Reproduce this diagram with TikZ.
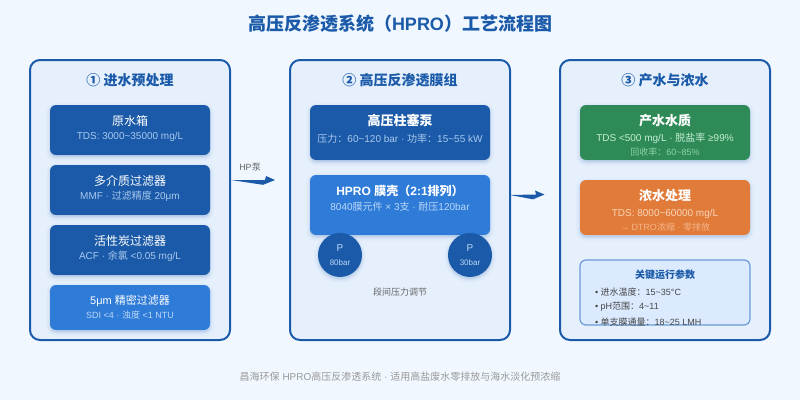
\documentclass[tikz,border=0pt]{standalone}
\usepackage{fontspec}
\setmainfont{Liberation Sans}
\newfontfamily\cjk{Noto Sans CJK SC}
\newcommand\zh[1]{{\cjk #1}}
\newcommand\fs[1]{\fontsize{\fpeval{#1*0.75}pt}{\fpeval{#1*0.9}pt}\selectfont}
\definecolor{bgc}{HTML}{F0F7FF}
\definecolor{panelc}{HTML}{E6F0FD}
\definecolor{deep}{HTML}{1A5AA8}
\definecolor{bright}{HTML}{2F7BD8}
\definecolor{greenc}{HTML}{2E8B57}
\definecolor{orangec}{HTML}{E07B39}
\definecolor{infoc}{HTML}{DBEAFE}
\definecolor{infoedge}{HTML}{6A9BD8}
\definecolor{subdeep}{HTML}{A9C8EE}
\definecolor{subbright}{HTML}{BBD8F8}
\definecolor{subgreen}{HTML}{C4ECD4}
\definecolor{thirdgreen}{HTML}{8FD0A8}
\definecolor{suborange}{HTML}{FAD5BA}
\definecolor{thirdorange}{HTML}{F6B48A}
\definecolor{greytext}{HTML}{666666}
\definecolor{foottext}{HTML}{999999}
\tikzset{
  x=0.75pt,y=-0.75pt,
  wh/.style 2 args={minimum width=#1*0.75pt,minimum height=#2*0.75pt},
  softshadow/.style={
    preaction={draw=deep,draw opacity=.025,fill=deep,fill opacity=.03,line width=6pt,transform canvas={yshift=-1.5pt}},
    preaction={draw=deep,draw opacity=.035,fill=deep,fill opacity=.03,line width=3.6pt,transform canvas={yshift=-1.5pt}},
    preaction={draw=deep,draw opacity=.05,fill=deep,fill opacity=.03,line width=1.5pt,transform canvas={yshift=-1.5pt}}},
  panel/.style={rectangle,rounded corners=7.5pt,draw=deep,line width=1.5pt,fill=panelc,inner sep=0pt,outer sep=0pt},
  unit/.style={rectangle,rounded corners=4.5pt,inner sep=0pt,outer sep=0pt,softshadow},
  pumpc/.style={circle,fill=deep,inner sep=0pt,outer sep=0pt,minimum size=33pt,softshadow},
  info/.style={rectangle,rounded corners=4.5pt,inner sep=0pt,outer sep=0pt,fill=infoc,draw=infoedge,line width=.9pt},
  lbl/.style={inner sep=0pt,outer sep=0pt,anchor=center},
  flowtip/.style={fill=deep,draw=none},
}
\begin{document}
\begin{tikzpicture}
\useasboundingbox (0,0) rectangle (800,400);
\fill[bgc] (0,0) rectangle (800,400);

\node[lbl,text=deep] (title) at (400,24) {\fs{18}\bfseries\zh{高压反渗透系统（}HPRO\zh{）工艺流程图}};

% panels
\node[panel,wh={200}{280}] (p1) at (130,200) {};
\node[panel,wh={220}{280}] (p2) at (400,200) {};
\node[panel,wh={210}{280}] (p3) at (665,200) {};
\node[lbl,text=deep] (t1) at (130,80) {\fs{14}\bfseries\zh{① 进水预处理}};
\node[lbl,text=deep] (t2) at (400,80) {\fs{14}\bfseries\zh{② 高压反渗透膜组}};
\node[lbl,text=deep] (t3) at (665,80) {\fs{14}\bfseries\zh{③ 产水与浓水}};

% column 1
\node[unit,fill=deep,wh={160}{50}] (raw) at (130,130) {};
\node[lbl,text=white] (rawa) at (130,120.5) {\fs{12}\zh{原水箱}};
\node[lbl,text=subdeep] (rawb) at (130,136.5) {\fs{10}TDS: 3000\textasciitilde35000 mg/L};

\node[unit,fill=deep,wh={160}{50}] (mmf) at (130,190) {};
\node[lbl,text=white] (mmfa) at (130,180.5) {\fs{12}\zh{多介质过滤器}};
\node[lbl,text=subdeep] (mmfb) at (130,196.5) {\fs{10}MMF · \zh{过滤精度} 20μm};

\node[unit,fill=deep,wh={160}{50}] (acf) at (130,250) {};
\node[lbl,text=white] (acfa) at (130,240.5) {\fs{12}\zh{活性炭过滤器}};
\node[lbl,text=subdeep] (acfb) at (130,256.5) {\fs{10}ACF · \zh{余氯} <0.05 mg/L};

\node[unit,fill=bright,wh={160}{45}] (fine) at (130,307.5) {};
\node[lbl,text=white] (finea) at (130,301) {\fs{11}5μm \zh{精密过滤器}};
\node[lbl,text=subbright] (fineb) at (130,315) {\fs{9}SDI <4 · \zh{浊度} <1 NTU};

% column 2
\node[unit,fill=deep,wh={180}{55}] (pump) at (400,132.5) {};
\node[lbl,text=white] (pumpa) at (400,120.5) {\fs{13}\bfseries\zh{高压柱塞泵}};
\node[lbl,text=subdeep] (pumpb) at (400,138.5) {\fs{10}\zh{压力：}60\textasciitilde120 bar · \zh{功率：}15\textasciitilde55 kW};

\node[unit,fill=bright,wh={180}{60}] (hpro) at (400,205) {};
\node[lbl,text=white] (hproa) at (400,191) {\fs{12}\bfseries HPRO \zh{膜壳（}2:1\zh{排列）}};
\node[lbl,text=subbright] (hprob) at (400,206.5) {\fs{10}8040\zh{膜元件} × 3\zh{支} · \zh{耐压}120bar};

\node[pumpc] (pa) at (340,255) {};
\node[lbl,text=subbright] (paa) at (340,248.5) {\fs{10}P};
\node[lbl,text=subbright] (pab) at (340,262.5) {\fs{8}80bar};
\node[pumpc] (pb) at (470,255) {};
\node[lbl,text=subbright] (pba) at (470,248.5) {\fs{10}P};
\node[lbl,text=subbright] (pbb) at (470,262.5) {\fs{8}30bar};
\node[lbl,text=greytext] (stage) at (400,292) {\fs{9}\zh{段间压力调节}};

% column 3
\node[unit,fill=greenc,wh={170}{55}] (prod) at (665,132.5) {};
\node[lbl,text=white] (proda) at (665,120.5) {\fs{13}\bfseries\zh{产水水质}};
\node[lbl,text=subgreen] (prodb) at (665,138.5) {\fs{10}TDS <500 mg/L · \zh{脱盐率} ≥99\%};
\node[lbl,text=thirdgreen] (prodc) at (665,152) {\fs{9}\zh{回收率：}60\textasciitilde85\%};

\node[unit,fill=orangec,wh={170}{55}] (conc) at (665,207.5) {};
\node[lbl,text=white] (conca) at (665,195.5) {\fs{13}\bfseries\zh{浓水处理}};
\node[lbl,text=suborange] (concb) at (665,213.5) {\fs{10}TDS: 8000\textasciitilde60000 mg/L};
\node[lbl,text=thirdorange] (concc) at (665,227) {\fs{9}→ DTRO\zh{浓缩} · \zh{零排放}};

\node[info,wh={170}{65}] (params) at (665,292.5) {};
\node[lbl,text=deep] (paramt) at (665,274.5) {\fs{10}\bfseries\zh{关键运行参数}};
\node[lbl,text=black!72,anchor=west] (parama) at (595,292) {\fs{9}• \zh{进水温度：}15\textasciitilde35°C};
\node[lbl,text=black!72,anchor=west] (paramb) at (595,307) {\fs{9}• pH\zh{范围：}4\textasciitilde11};
\node[lbl,text=black!72,anchor=west] (paramc) at (595,322) {\fs{9}• \zh{单支膜通量：}18\textasciitilde25 LMH};

% flow arrows between panels
\node[lbl,text=greytext] (hp) at (250,167) {\fs{9}HP\zh{泵}};
\coordinate (a1) at (231,180);
\fill[flowtip] (a1) -- ++(34,0) -- ++(1,-4) -- ++(9,4) -- ++(-12,4.8) -- cycle;
\coordinate (a2) at (510,195);
\fill[flowtip] (a2) -- ++(26,-.5) -- ++(-1,-4) -- ++(9.5,4) -- ++(-11.5,4.8) -- cycle;

\node[lbl,text=foottext] (foot) at (400,377) {\fs{10}\zh{昌海环保} HPRO\zh{高压反渗透系统} · \zh{适用高盐废水零排放与海水淡化预浓缩}};
\end{tikzpicture}
\end{document}
